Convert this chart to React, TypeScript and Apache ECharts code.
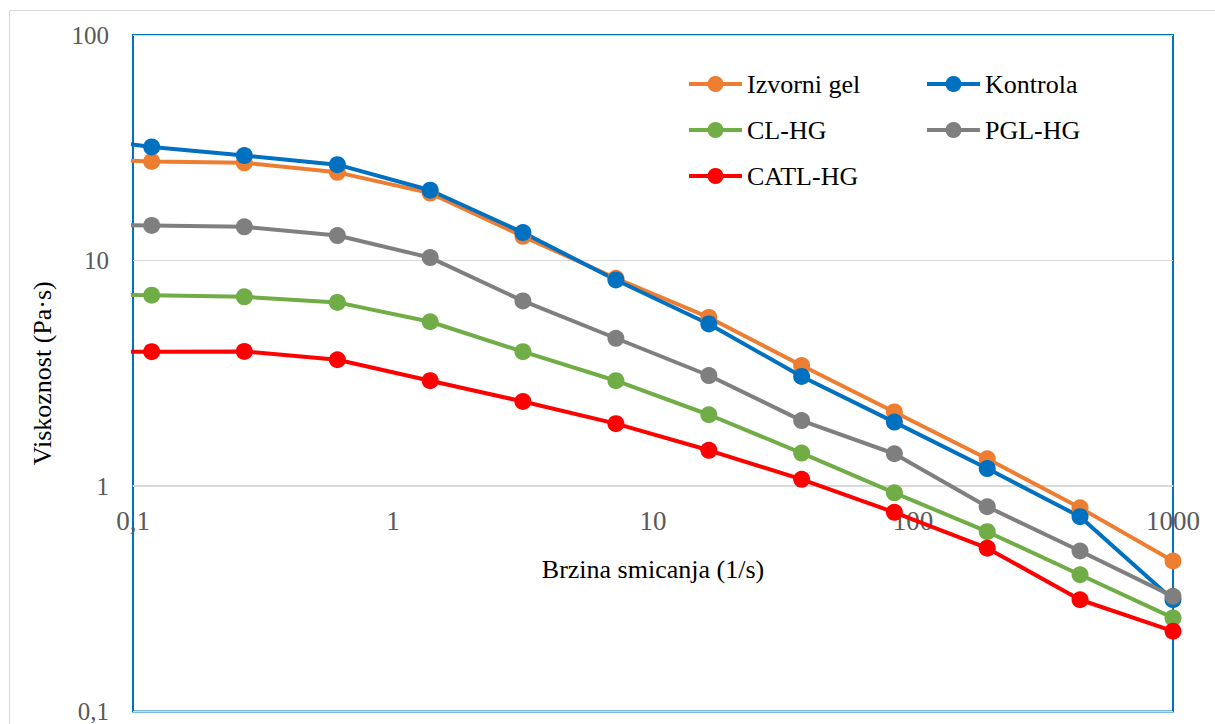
import React, { useEffect, useRef } from "react";
import * as echarts from "echarts";

// Shear rate (1/s) — first point lies left of the visible range and is clipped
const SHEAR_RATE = [0.0518, 0.118, 0.268, 0.611, 1.39, 3.16, 7.2, 16.4, 37.3, 84.8, 193, 439, 1000];

const IZVORNI_GEL = [28.5, 27.5, 27.1, 24.6, 19.9, 12.8, 8.34, 5.59, 3.42, 2.13, 1.32, 0.8, 0.465];
const KONTROLA = [36, 31.9, 29.2, 26.6, 20.5, 13.3, 8.2, 5.23, 3.06, 1.92, 1.195, 0.731, 0.313];
const CL_HG = [7.1, 7.02, 6.9, 6.52, 5.35, 3.94, 2.93, 2.07, 1.4, 0.933, 0.627, 0.404, 0.26];
const PGL_HG = [14.4, 14.3, 14.1, 12.9, 10.3, 6.62, 4.52, 3.09, 1.95, 1.39, 0.809, 0.515, 0.324];
const CATL_HG = [3.94, 3.94, 3.95, 3.63, 2.93, 2.37, 1.89, 1.44, 1.07, 0.764, 0.53, 0.313, 0.227];

const SERIES_NAMES = ["Izvorni gel", "Kontrola", "CL-HG", "PGL-HG", "CATL-HG"];
const SERIES_VALUES = [IZVORNI_GEL, KONTROLA, CL_HG, PGL_HG, CATL_HG];
const SERIES_COLORS = ["#ED7D31", "#0070C0", "#70AD47", "#7F7F7F", "#FF0000"];

const FONT = "Liberation Serif";

const fmt = (v: number) => {
  const r = Math.round(v * 1000) / 1000;
  return String(r).replace(".", ",");
};

export default function App() {
  const ref = useRef<HTMLDivElement>(null);

  useEffect(() => {
    const chart = echarts.init(ref.current!, null, { renderer: "svg" });

    const series = SERIES_NAMES.map((name, i) => ({
      name,
      type: "line",
      data: SHEAR_RATE.map((x, j) => [x, SERIES_VALUES[i][j]]),
      symbol: "circle",
      symbolSize: 17,
      clip: true,
      lineStyle: { width: 4, color: SERIES_COLORS[i] },
      itemStyle: { color: SERIES_COLORS[i] },
      emphasis: { disabled: true },
    }));

    const legendCommon = {
      orient: "vertical",
      top: 71,
      padding: 0,
      itemWidth: 53,
      itemHeight: 20,
      itemGap: 20,
      selectedMode: false,
      lineStyle: { width: 4 },
      textStyle: { fontSize: 26, fontFamily: FONT, color: "#000", lineHeight: 26 },
    };

    chart.setOption({
      animation: false,
      backgroundColor: "#fff",
      textStyle: { fontFamily: FONT },
      graphic: [
        {
          type: "rect",
          shape: { x: 9.5, y: 10.5, width: 1400, height: 900 },
          style: { fill: "none", stroke: "#d9d9d9", lineWidth: 1 },
          silent: true,
        },
      ],
      grid: {
        left: 133,
        top: 35,
        right: 42,
        bottom: 10,
        show: true,
        borderColor: "#0070C0",
        borderWidth: 2,
        backgroundColor: "transparent",
      },
      legend: [
        { ...legendCommon, left: 687, data: ["Izvorni gel", "CL-HG", "CATL-HG"] },
        { ...legendCommon, left: 925, data: ["Kontrola", "PGL-HG"] },
      ],
      xAxis: {
        type: "log",
        logBase: 10,
        min: 0.1,
        max: 1000,
        offset: -226.5,
        axisLine: { show: true, lineStyle: { color: "#d9d9d9", width: 1 } },
        axisTick: { show: false },
        splitLine: { show: false },
        axisLabel: {
          fontSize: 27,
          color: "#595959",
          margin: 22,
          fontFamily: FONT,
          showMinLabel: true,
          showMaxLabel: true,
          formatter: fmt,
        },
        name: "Brzina smicanja (1/s)",
        nameLocation: "middle",
        nameGap: 71,
        nameTextStyle: { fontSize: 26, color: "#000", fontFamily: FONT },
      },
      yAxis: {
        type: "log",
        logBase: 10,
        min: 0.1,
        max: 100,
        axisLine: { show: false },
        axisTick: { show: false },
        splitLine: { show: true, lineStyle: { color: "#d9d9d9", width: 1 } },
        axisLabel: {
          fontSize: 25,
          color: "#595959",
          margin: 24,
          fontFamily: FONT,
          showMinLabel: true,
          showMaxLabel: true,
          formatter: fmt,
        },
        name: "Viskoznost (Pa·s)",
        nameLocation: "middle",
        nameGap: 78,
        nameTextStyle: { fontSize: 26, color: "#000", fontFamily: FONT },
      },
      series,
    });

    return () => chart.dispose();
  }, []);

  return (
    <div
      ref={ref}
      style={{ position: "fixed", left: 0, top: 0, width: 1215, height: 724, background: "#fff" }}
    />
  );
}
